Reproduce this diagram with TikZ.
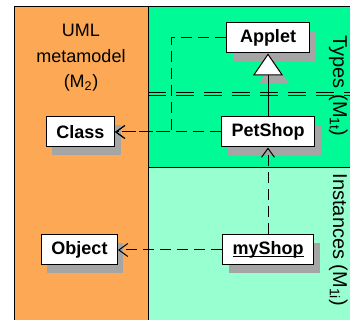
\documentclass[tikz,border=0pt]{standalone}
\usepackage{fontspec}
\setmainfont{Liberation Sans}
\usetikzlibrary{arrows.meta,positioning,shadows,calc}
\definecolor{metaorange}{RGB}{252,168,84}
\definecolor{typegreen}{RGB}{0,250,150}
\definecolor{instgreen}{RGB}{152,255,208}
\definecolor{shadowgray}{RGB}{165,165,165}
\newcommand{\objname}[1]{\setbox0\hbox{#1}\rlap{\rule[-2.5pt]{\wd0}{1.2pt}}\box0}

\begin{document}
\begin{tikzpicture}[x=1pt,y=1pt,>={Straight Barb[length=9pt,width=13pt]},
    umlbox/.style={draw,fill=white,line width=1pt,inner xsep=10pt,minimum height=30pt,
      font=\fontsize{18}{21}\selectfont\bfseries,
      drop shadow={shadow xshift=6pt,shadow yshift=-8pt,fill=shadowgray,opacity=1}},
    dep/.style={line width=1pt,dash pattern=on 11pt off 6pt},
    level/.style={font=\fontsize{18}{25.5}\selectfont,inner sep=0pt},
    sidelevel/.style={font=\fontsize{20}{25}\selectfont,inner sep=0pt,rotate=-90,anchor=base}]
    \useasboundingbox (0,0) rectangle (350,320);
    \fill[metaorange] (14,0) rectangle (148,314);
    \fill[typegreen] (148,153) rectangle (350,314);
    \fill[instgreen] (148,0) rectangle (350,153);
    \draw[line width=0.8pt] (14,0) -- (14,314) -- (350,314);
    \draw[line width=0.8pt] (148,0) -- (148,314);
    \draw[line width=0.8pt] (148,153) -- (350,153);
    \draw[line width=1pt,dash pattern=on 18pt off 10pt] (148,227) -- (350,227) (148,224) -- (350,224);

    \node[level,align=center] (m2) at (81,262) {UML\\metamodel\\(M\textsubscript{2})};
    \node[sidelevel] (m1t) at (333,234) {Types (M\textsubscript{1t})};
    \node[sidelevel] (m1i) at (333,80) {Instances (M\textsubscript{1i})};

    \node[umlbox]                  (petshop) at (268,188)        {PetShop};
    \node[umlbox,minimum width=83pt] (applet) [above=63pt of petshop] {Applet};
    \node[umlbox]                  (cls)     [left=106pt of petshop] {Class};
    \node[umlbox]                  (myshop)  [below=87pt of petshop] {\objname{myShop}};
    \node[umlbox]                  (object)  [left=104pt of myshop]  {Object};

    \fill[shadowgray] ($(applet.south)+(6,-8)$) -- ++(-15,-22) -- ++(30,0) -- cycle;
    \draw[line width=1pt,-{Triangle[length=22pt,width=30pt,fill=white]}] (petshop) -- (applet);
    \draw[dep,->] (applet.west) -- ++(-55,0) |- (cls.east);
    \draw[dep,->] (petshop) -- (cls);
    \draw[dep,->] (myshop) -- (petshop);
    \draw[dep,->] (myshop) -- (object);
\end{tikzpicture}
\end{document}
